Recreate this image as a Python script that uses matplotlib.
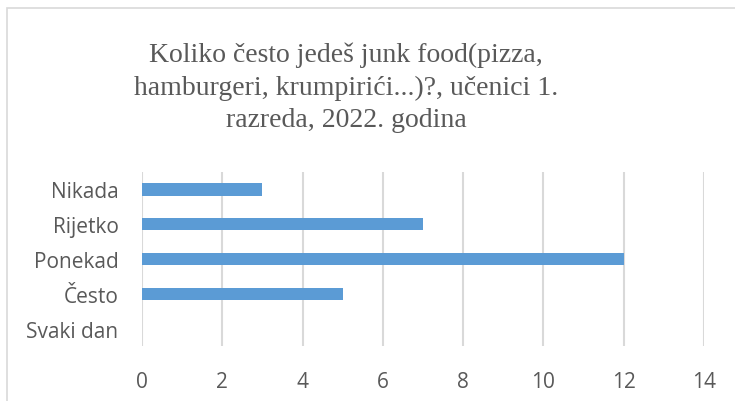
import matplotlib.pyplot as plt
from matplotlib.patches import Rectangle

categories = ['Svaki dan', 'Često', 'Ponekad', 'Rijetko', 'Nikada']
values = [0, 5, 12, 7, 3]
xticks = [0, 2, 4, 6, 8, 10, 12, 14]

fig = plt.figure(figsize=(7.35, 4.02), dpi=100)
ax = fig.add_axes([142/735, 1 - 347/402, (704 - 142)/735, (347 - 173)/402])

ax.barh(categories, values, height=0.36, color='#5B9BD5', zorder=3)
ax.set_xlim(0, 14)
ax.set_ylim(-0.5, 4.5)
ax.set_xticks(xticks)
ax.grid(axis='x', color='#D9D9D9', linewidth=1.5, zorder=0)
for s in ax.spines.values():
    s.set_visible(False)
ax.tick_params(length=0, labelsize=15, labelcolor='#595959')
ax.tick_params(axis='y', pad=17)
ax.tick_params(axis='x', pad=18)
for lbl in ax.get_xticklabels() + ax.get_yticklabels():
    lbl.set_family('Open Sans')

fig.text(346/735, 1 - 88/402,
         'Koliko često jedeš junk food(pizza,\nhamburgeri, krumpirići...)?, učenici 1.\nrazreda, 2022. godina',
         ha='center', va='center', fontsize=20, color='#595959',
         family='Liberation Serif', linespacing=1.38)

# chart border (only left/top edges visible in the crop)
fig.patches.append(Rectangle((7/735, -0.1), 1.2, 1 - 9/402 + 0.1,
                             transform=fig.transFigure, fill=False,
                             edgecolor='#D9D9D9', linewidth=1.2))

fig.savefig('out.png', dpi=100)
